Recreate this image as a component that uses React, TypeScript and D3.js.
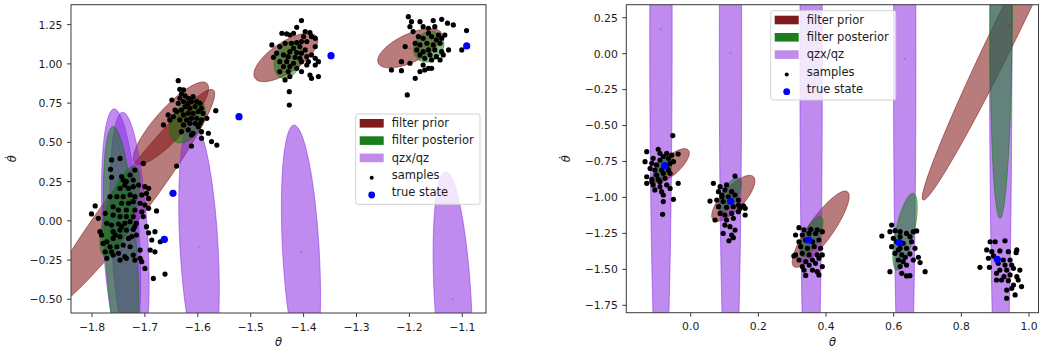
import React from 'react';
import * as d3 from 'd3';

// ---------- axis limits & ticks ----------
const leftXLim = [-1.8397, -1.0552];
const leftYLim = [-0.587, 1.377];
const rightXLim = [-0.1904, 1.0281];
const rightYLim = [-1.8015, 0.3404];
const leftXTicks = [-1.8, -1.7, -1.6, -1.5, -1.4, -1.3, -1.2, -1.1];
const leftYTicks = [-0.5, -0.25, 0, 0.25, 0.5, 0.75, 1.0, 1.25];
const rightXTicks = [0, 0.2, 0.4, 0.6, 0.8, 1.0];
const rightYTicks = [0.25, 0, -0.25, -0.5, -0.75, -1, -1.25, -1.5, -1.75];

const legendLabels = ['filter prior', 'filter posterior', 'qzx/qz', 'samples', 'true state'];

// ---------- ellipses: [cx, cy, ux, uy, vx, vy] (data units, conjugate semi-axes) ----------
const leftPriors = [
  [-1.7282, 0.1327, 0.1575, 0.701, 0.029, -0.073],
  [-1.651, 0.6216, 0.0679, 0.255, 0.0215, -0.064],
  [-1.4336, 1.041, 0.0582, 0.1326, 0.0159, -0.079],
  [-1.1989, 1.0996, 0.0599, 0.0956, 0.0113, -0.0809],
];
const leftQ = [
  [-1.745, -0.094, -0.013, 0.807, 0.0346, 0],
  [-1.729, -0.115, -0.013, 0.807, 0.0346, 0],
  [-1.5977, -0.165, -0.013, 0.807, 0.036, 0],
  [-1.405, -0.197, -0.013, 0.807, 0.0346, 0],
  [-1.118, -0.498, -0.0134, 0.811, 0.0347, 0],
];
const leftPosteriors = [
  [-1.745, -0.199, -0.015, 0.8, 0.03, 0],
  [-1.7471, 0.0582, 0.0284, 0.2868, 0.0251, -0.028],
  [-1.6195, 0.6375, 0.0236, 0.1326, 0.0244, -0.0491],
  [-1.4295, 1.025, 0.0132, 0.1147, 0.0229, -0.03],
  [-1.1635, 1.1098, 0.0113, 0.0956, 0.0265, -0.0223],
];
const rightPriors = [
  [-0.0588, -0.78, 0.0517, 0.1099, 0.0177, -0.0466],
  [0.1259, -1.006, 0.0591, 0.1509, 0.0239, -0.0522],
  [0.3843, -1.2208, 0.0789, 0.2608, 0.029, -0.0487],
  [0.9389, 0.1992, 0.2521, 1.217, 0.0346, -0.0396],
];
const rightQ = [
  [-0.088, 0.171, 0, 2.82, 0.0331, 0],
  [0.1176, 0.002, 0, 2.77, 0.0331, 0],
  [0.356, -0.04, 0, 3.0, 0.0331, 0],
  [0.6326, -0.037, 0, 2.93, 0.0331, 0],
  [0.9164, 0.083, 0, 2.9, 0.0331, 0],
];
const rightPosteriors = [
  [-0.0819, -0.795, 0.0236, 0.0974, 0.0177, -0.0209],
  [0.1162, -0.983, 0.0266, 0.1182, 0.0207, -0.0257],
  [0.357, -1.273, 0.0272, 0.139, 0.0207, -0.0209],
  [0.6335, -1.238, 0.0245, 0.2663, 0.0266, -0.0139],
  [0.9187, 0.248, -0.0044, -1.393, 0.0325, 0],
];

// ---------- true states ----------
const leftTrue = [[-1.6633, -0.1178], [-1.6469, 0.1754], [-1.5221, 0.6636], [-1.3482, 1.0524], [-1.0917, 1.1142]];
const rightTrue = [[-0.0769, -0.779], [0.1182, -1.0268], [0.3488, -1.296], [0.6166, -1.3147], [0.9063, -1.43]];

// ---------- samples ----------
const leftSamples1 = [
  [-1.763, 0.388], [-1.747, 0.398], [-1.765, 0.328], [-1.763, 0.277], [-1.744, 0.282], [-1.741, 0.26], [-1.728, 0.292], [-1.719, 0.324],
  [-1.703, 0.366], [-1.722, 0.26], [-1.738, 0.228], [-1.747, 0.207], [-1.731, 0.207], [-1.722, 0.218], [-1.712, 0.228], [-1.7, 0.218],
  [-1.693, 0.207], [-1.753, 0.154], [-1.766, 0.154], [-1.741, 0.154], [-1.728, 0.165], [-1.719, 0.154], [-1.706, 0.165], [-1.697, 0.175],
  [-1.693, 0.143], [-1.744, 0.112], [-1.731, 0.112], [-1.722, 0.122], [-1.709, 0.112], [-1.7, 0.101], [-1.693, 0.08], [-1.76, 0.09],
  [-1.75, 0.069], [-1.735, 0.069], [-1.719, 0.069], [-1.706, 0.058], [-1.794, 0.095], [-1.801, 0.044], [-1.788, 0.016], [-1.775, 0.048],
  [-1.76, 0.037], [-1.747, 0.027], [-1.735, 0.027], [-1.722, 0.027], [-1.703, 0.027], [-1.678, 0.063], [-1.772, -0.016], [-1.763, -0.027],
  [-1.75, -0.02], [-1.738, -0.016], [-1.728, -0.005], [-1.716, -0.016], [-1.76, -0.069], [-1.747, -0.059], [-1.735, -0.059], [-1.722, -0.054],
  [-1.785, -0.069], [-1.782, -0.09], [-1.772, -0.133], [-1.76, -0.112], [-1.747, -0.101], [-1.731, -0.112], [-1.716, -0.09], [-1.693, -0.076],
  [-1.681, -0.069], [-1.766, -0.165], [-1.753, -0.165], [-1.741, -0.154], [-1.728, -0.165], [-1.775, -0.197], [-1.763, -0.197], [-1.75, -0.207],
  [-1.738, -0.228], [-1.722, -0.218], [-1.709, -0.186], [-1.687, -0.122], [-1.671, -0.133], [-1.662, -0.122], [-1.681, -0.197], [-1.772, -0.239],
  [-1.76, -0.218], [-1.747, -0.25], [-1.735, -0.239], [-1.719, -0.25], [-1.706, -0.26], [-1.7, -0.303], [-1.709, -0.239], [-1.684, -0.367],
  [-1.662, -0.339], [-1.69, -0.186], [-1.697, -0.037], [-1.719, -0.037], [-1.725, -0.101], [-1.756, -0.09], [-1.779, -0.144], [-1.744, -0.037],
  [-1.735, 0.25],
];
const leftSamples2 = [
  [-1.637, 0.893], [-1.634, 0.838], [-1.627, 0.834], [-1.631, 0.808], [-1.649, 0.77], [-1.634, 0.781], [-1.624, 0.796], [-1.618, 0.781],
  [-1.609, 0.791], [-1.637, 0.749], [-1.627, 0.76], [-1.618, 0.749], [-1.612, 0.76], [-1.602, 0.76], [-1.596, 0.749], [-1.624, 0.728],
  [-1.615, 0.717], [-1.605, 0.728], [-1.593, 0.717], [-1.64, 0.696], [-1.631, 0.706], [-1.656, 0.675], [-1.646, 0.664], [-1.627, 0.675],
  [-1.618, 0.685], [-1.609, 0.685], [-1.599, 0.696], [-1.59, 0.685], [-1.634, 0.643], [-1.621, 0.643], [-1.612, 0.653], [-1.602, 0.653],
  [-1.593, 0.643], [-1.583, 0.653], [-1.566, 0.702], [-1.665, 0.611], [-1.627, 0.611], [-1.615, 0.621], [-1.605, 0.621], [-1.596, 0.621],
  [-1.631, 0.568], [-1.618, 0.579], [-1.599, 0.6], [-1.593, 0.568], [-1.612, 0.547], [-1.58, 0.558], [-1.593, 0.526], [-1.574, 0.505],
  [-1.564, 0.483], [-1.609, 0.558], [-1.612, 0.477], [-1.643, 0.706], [-1.653, 0.643], [-1.64, 0.349],
];
const leftSamples3 = [
  [-1.404, 1.276], [-1.413, 1.233], [-1.397, 1.206], [-1.388, 1.199], [-1.441, 1.195], [-1.432, 1.191], [-1.426, 1.184], [-1.419, 1.195],
  [-1.385, 1.174], [-1.378, 1.163], [-1.435, 1.131], [-1.423, 1.131], [-1.413, 1.136], [-1.404, 1.142], [-1.394, 1.142], [-1.46, 1.121],
  [-1.445, 1.11], [-1.419, 1.099], [-1.407, 1.11], [-1.378, 1.11], [-1.426, 1.078], [-1.413, 1.072], [-1.404, 1.068], [-1.397, 1.089],
  [-1.438, 1.057], [-1.429, 1.046], [-1.416, 1.042], [-1.407, 1.036], [-1.394, 1.046], [-1.457, 1.042], [-1.385, 1.057], [-1.378, 1.036],
  [-1.445, 1.014], [-1.432, 1.014], [-1.419, 1.004], [-1.404, 1.014], [-1.391, 1.014], [-1.372, 1.014], [-1.438, 0.983], [-1.426, 0.983],
  [-1.413, 0.972], [-1.394, 0.993], [-1.445, 0.951], [-1.429, 0.951], [-1.404, 0.951], [-1.388, 0.929], [-1.372, 0.919], [-1.435, 0.898],
  [-1.426, 0.919], [-1.385, 0.908], [-1.427, 0.823], [-1.427, 0.738], [-1.378, 0.993], [-1.451, 1.068], [-1.4, 1.174],
];
const leftSamples4 = [
  [-1.202, 1.301], [-1.196, 1.269], [-1.18, 1.269], [-1.155, 1.276], [-1.139, 1.284], [-1.128, 1.259], [-1.117, 1.248], [-1.199, 1.237],
  [-1.174, 1.237], [-1.164, 1.227], [-1.152, 1.237], [-1.092, 1.212], [-1.193, 1.206], [-1.164, 1.195], [-1.145, 1.184], [-1.183, 1.174],
  [-1.174, 1.163], [-1.158, 1.174], [-1.149, 1.153], [-1.139, 1.163], [-1.189, 1.131], [-1.18, 1.121], [-1.167, 1.131], [-1.155, 1.121],
  [-1.142, 1.131], [-1.186, 1.089], [-1.174, 1.078], [-1.164, 1.089], [-1.152, 1.089], [-1.139, 1.078], [-1.126, 1.089], [-1.18, 1.057],
  [-1.161, 1.057], [-1.149, 1.046], [-1.136, 1.057], [-1.101, 1.089], [-1.171, 1.036], [-1.158, 1.025], [-1.142, 1.025], [-1.215, 1.014],
  [-1.199, 1.004], [-1.174, 0.993], [-1.164, 0.972], [-1.234, 0.961], [-1.215, 0.957], [-1.18, 0.951], [-1.171, 0.961], [-1.158, 0.972],
  [-1.189, 0.908], [-1.204, 0.802], [-1.208, 1.11], [-1.133, 1.184],
];
const rightSamples1 = [
  [-0.053, -0.57], [-0.13, -0.682], [-0.096, -0.665], [-0.091, -0.693], [-0.071, -0.693], [-0.081, -0.716], [-0.056, -0.705], [-0.037, -0.698],
  [-0.111, -0.728], [-0.091, -0.74], [-0.066, -0.728], [-0.135, -0.751], [-0.115, -0.763], [-0.101, -0.774], [-0.061, -0.763], [-0.051, -0.751],
  [-0.12, -0.798], [-0.106, -0.809], [-0.086, -0.809], [-0.066, -0.809], [-0.101, -0.844], [-0.081, -0.832], [-0.061, -0.832], [-0.13, -0.856],
  [-0.115, -0.874], [-0.096, -0.874], [-0.076, -0.867], [-0.037, -0.902], [-0.13, -0.902], [-0.111, -0.913], [-0.091, -0.925], [-0.071, -0.913],
  [-0.106, -0.948], [-0.086, -0.96], [-0.061, -0.937], [-0.081, -0.983], [-0.051, -1.013], [-0.081, -1.029], [-0.083, -1.117], [-0.115, -0.89],
  [-0.071, -0.786], [-0.091, -0.89],
];
const rightSamples2 = [
  [0.067, -0.902], [0.087, -0.925], [0.106, -0.913], [0.131, -0.851], [0.082, -0.96], [0.101, -0.948], [0.121, -0.96], [0.057, -1.025],
  [0.092, -0.983], [0.111, -0.995], [0.131, -0.983], [0.096, -1.029], [0.116, -1.029], [0.141, -1.018], [0.156, -1.059], [0.161, -1.076],
  [0.082, -1.064], [0.106, -1.069], [0.126, -1.064], [0.146, -1.076], [0.087, -1.111], [0.101, -1.122], [0.121, -1.111], [0.141, -1.099],
  [0.161, -1.122], [0.072, -1.157], [0.106, -1.157], [0.126, -1.145], [0.101, -1.192], [0.116, -1.203], [0.096, -1.25], [0.121, -1.261],
  [0.131, -1.227], [0.092, -0.995], [0.077, -1.018], [0.141, -1.053], [0.113, -1.301], [0.126, -1.28],
];
const rightSamples3 = [
  [0.32, -1.21], [0.335, -1.226], [0.355, -1.222], [0.374, -1.226], [0.31, -1.261], [0.33, -1.261], [0.35, -1.25], [0.369, -1.25],
  [0.389, -1.238], [0.32, -1.308], [0.34, -1.296], [0.36, -1.308], [0.379, -1.296], [0.325, -1.342], [0.345, -1.354], [0.365, -1.342],
  [0.384, -1.354], [0.31, -1.4], [0.33, -1.389], [0.35, -1.4], [0.374, -1.4], [0.389, -1.4], [0.305, -1.407], [0.32, -1.435],
  [0.34, -1.447], [0.36, -1.435], [0.379, -1.423], [0.33, -1.481], [0.35, -1.47], [0.369, -1.458], [0.389, -1.481], [0.34, -1.542],
  [0.374, -1.516], [0.379, -1.539], [0.36, -1.505], [0.335, -1.505],
];
const rightSamples4 = [
  [0.594, -1.192], [0.565, -1.268], [0.589, -1.238], [0.604, -1.231], [0.619, -1.238], [0.638, -1.25], [0.658, -1.238], [0.668, -1.233],
  [0.599, -1.284], [0.619, -1.273], [0.648, -1.273], [0.609, -1.308], [0.628, -1.319], [0.653, -1.308], [0.594, -1.342], [0.619, -1.354],
  [0.638, -1.354], [0.663, -1.354], [0.604, -1.389], [0.624, -1.4], [0.648, -1.393], [0.673, -1.416], [0.614, -1.435], [0.628, -1.447],
  [0.658, -1.435], [0.619, -1.481], [0.638, -1.47], [0.589, -1.516], [0.678, -1.453], [0.693, -1.516], [0.624, -1.528], [0.638, -1.546],
  [0.648, -1.544], [0.614, -1.365], [0.634, -1.416],
];
const rightSamples5 = [
  [0.885, -1.308], [0.9, -1.308], [0.929, -1.301], [0.875, -1.365], [0.89, -1.377], [0.914, -1.372], [0.939, -1.377], [0.964, -1.365],
  [0.88, -1.423], [0.895, -1.407], [0.924, -1.435], [0.944, -1.435], [0.962, -1.384], [0.909, -1.458], [0.929, -1.47], [0.949, -1.47],
  [0.855, -1.486], [0.883, -1.486], [0.914, -1.505], [0.934, -1.505], [0.954, -1.493], [0.904, -1.528], [0.926, -1.551], [0.944, -1.539],
  [0.964, -1.551], [0.919, -1.574], [0.939, -1.579], [0.954, -1.609], [0.978, -1.62], [0.934, -1.644], [0.959, -1.678], [0.934, -1.701],
  [0.904, -1.574], [0.973, -1.505], [0.968, -1.574], [0.949, -1.632],
];

const leftSamples = [...leftSamples1, ...leftSamples2, ...leftSamples3, ...leftSamples4];
const rightSamples = [...rightSamples1, ...rightSamples2, ...rightSamples3, ...rightSamples4, ...rightSamples5];

// ---------- styles ----------
const FONT = 'DejaVu Sans, sans-serif';
const TXT = '#1c1c1c';
const SPINE = '#3a3a3a';
const PRIOR = '#801010';
const POST = '#0a7a0a';
const QZ = '#8a2be2';

const fmt1 = (v: number) => d3.format('.1f')(v).replace('-', '\u2212');
const fmt2 = (v: number) => d3.format('.2f')(v).replace('-', '\u2212');

function ellipsePath(e: number[], xs: any, ys: any) {
  const pts = d3.range(0, 121).map((i) => {
    const t = (i / 120) * 2 * Math.PI;
    return [xs(e[0] + e[2] * Math.cos(t) + e[4] * Math.sin(t)), ys(e[1] + e[3] * Math.cos(t) + e[5] * Math.sin(t))] as [number, number];
  });
  return (d3.line()(pts) || '') + 'Z';
}

type PanelProps = {
  id: string;
  box: { x0: number; x1: number; y0: number; y1: number };
  xLim: number[]; yLim: number[];
  xTicks: number[]; yTicks: number[];
  xFmt: (v: number) => string; yFmt: (v: number) => string;
  priors: number[][]; qs: number[][]; posts: number[][];
  samples: number[][]; truth: number[][];
  legend: { x: number; y: number; w: number; h: number };
  ylabelX: number;
};

function Panel(p: PanelProps) {
  const xs = d3.scaleLinear().domain(p.xLim).range([p.box.x0, p.box.x1]);
  const ys = d3.scaleLinear().domain(p.yLim).range([p.box.y1, p.box.y0]);
  const clip = `clip-${p.id}`;
  const centers = [...p.priors.map((e) => ({ e, c: PRIOR })), ...p.qs.map((e) => ({ e, c: QZ })), ...p.posts.map((e) => ({ e, c: POST }))];
  const L = p.legend;
  const rowH = 17.3;
  const row0 = L.y + 9.3;
  return (
    <g>
      <defs>
        <clipPath id={clip}>
          <rect x={p.box.x0} y={p.box.y0} width={p.box.x1 - p.box.x0} height={p.box.y1 - p.box.y0} />
        </clipPath>
      </defs>
      <g clipPath={`url(#${clip})`}>
        {p.priors.map((e, i) => (
          <path key={'p' + i} d={ellipsePath(e, xs, ys)} fill={PRIOR} fillOpacity={0.55} stroke={PRIOR} strokeOpacity={0.55} strokeWidth={1} />
        ))}
        {p.qs.map((e, i) => (
          <path key={'q' + i} d={ellipsePath(e, xs, ys)} fill={QZ} fillOpacity={0.55} stroke={QZ} strokeOpacity={0.55} strokeWidth={1} />
        ))}
        {p.posts.map((e, i) => (
          <path key={'g' + i} d={ellipsePath(e, xs, ys)} fill={POST} fillOpacity={0.5} stroke={POST} strokeOpacity={0.5} strokeWidth={1} />
        ))}
        {centers.map((o, i) => (
          <circle key={'c' + i} cx={xs(o.e[0])} cy={ys(o.e[1])} r={1.1} fill={o.c} fillOpacity={0.35} />
        ))}
        {p.samples.map((s, i) => (
          <circle key={'s' + i} cx={xs(s[0])} cy={ys(s[1])} r={2.6} fill="#000" />
        ))}
        {p.truth.map((s, i) => (
          <circle key={'t' + i} cx={xs(s[0])} cy={ys(s[1])} r={3.6} fill="#0000ff" />
        ))}
      </g>
      <rect x={p.box.x0} y={p.box.y0} width={p.box.x1 - p.box.x0} height={p.box.y1 - p.box.y0} fill="none" stroke={SPINE} strokeWidth={1} />
      {p.xTicks.map((t, i) => (
        <g key={'xt' + i}>
          <line x1={xs(t)} x2={xs(t)} y1={p.box.y1} y2={p.box.y1 + 4} stroke={SPINE} strokeWidth={1} />
          <text x={xs(t)} y={p.box.y1 + 17.5} textAnchor="middle" fontSize={10.8} fontFamily={FONT} fill={TXT}>{p.xFmt(t)}</text>
        </g>
      ))}
      {p.yTicks.map((t, i) => (
        <g key={'yt' + i}>
          <line x1={p.box.x0 - 4} x2={p.box.x0} y1={ys(t)} y2={ys(t)} stroke={SPINE} strokeWidth={1} />
          <text x={p.box.x0 - 8.5} y={ys(t) + 3.9} textAnchor="end" fontSize={10.8} fontFamily={FONT} fill={TXT}>{p.yFmt(t)}</text>
        </g>
      ))}
      <text x={(p.box.x0 + p.box.x1) / 2} y={p.box.y1 + 33} textAnchor="middle" fontSize={11.5} fontStyle="italic" fontFamily={FONT} fill={TXT}>θ</text>
      <text transform={`translate(${p.ylabelX},${(p.box.y0 + p.box.y1) / 2}) rotate(-90)`} textAnchor="middle" fontSize={11.5} fontStyle="italic" fontFamily={FONT} fill={TXT}>{'\u03B8\u0307'}</text>
      <g>
        <rect x={L.x} y={L.y} width={L.w} height={L.h} rx={2} fill="#fff" fillOpacity={0.8} stroke="#d2d2d2" strokeWidth={1} />
        {legendLabels.map((lab, i) => {
          const cy = row0 + i * rowH;
          let handle: any = null;
          if (i === 0) handle = <rect x={L.x + 4} y={cy - 4.3} width={24} height={8.6} fill="#7f1a1a" />;
          if (i === 1) handle = <rect x={L.x + 4} y={cy - 4.3} width={24} height={8.6} fill="#1b7d1b" />;
          if (i === 2) handle = <rect x={L.x + 4} y={cy - 4.3} width={24} height={8.6} fill="#c08be9" />;
          if (i === 3) handle = <circle cx={L.x + 16} cy={cy + 2.5} r={2} fill="#000" />;
          if (i === 4) handle = <circle cx={L.x + 16} cy={cy + 2.5} r={3.4} fill="#0000ff" />;
          return (
            <g key={'lg' + i}>
              {handle}
              <text x={L.x + 36} y={cy + 3.8} fontSize={11.5} fontFamily={FONT} fill={TXT}>{lab}</text>
            </g>
          );
        })}
      </g>
    </g>
  );
}

export default function App() {
  return (
    <svg width={1039} height={350} style={{ position: 'absolute', left: 0, top: 0, background: '#fff' }} xmlns="http://www.w3.org/2000/svg">
      <rect x={0} y={0} width={1039} height={350} fill="#fff" />
      <Panel
        id="L"
        box={{ x0: 71, x1: 486, y0: 4.7, y1: 313 }}
        xLim={leftXLim} yLim={leftYLim}
        xTicks={leftXTicks} yTicks={leftYTicks}
        xFmt={fmt1} yFmt={fmt2}
        priors={leftPriors} qs={leftQ} posts={leftPosteriors}
        samples={leftSamples} truth={leftTrue}
        legend={{ x: 355.7, y: 114, w: 124.3, h: 90.3 }}
        ylabelX={16}
      />
      <Panel
        id="R"
        box={{ x0: 626.3, x1: 1038.5, y0: 4.7, y1: 312.7 }}
        xLim={rightXLim} yLim={rightYLim}
        xTicks={rightXTicks} yTicks={rightYTicks}
        xFmt={fmt1} yFmt={fmt2}
        priors={rightPriors} qs={rightQ} posts={rightPosteriors}
        samples={rightSamples} truth={rightTrue}
        legend={{ x: 770.7, y: 10.7, w: 125, h: 89.3 }}
        ylabelX={570}
      />
    </svg>
  );
}
